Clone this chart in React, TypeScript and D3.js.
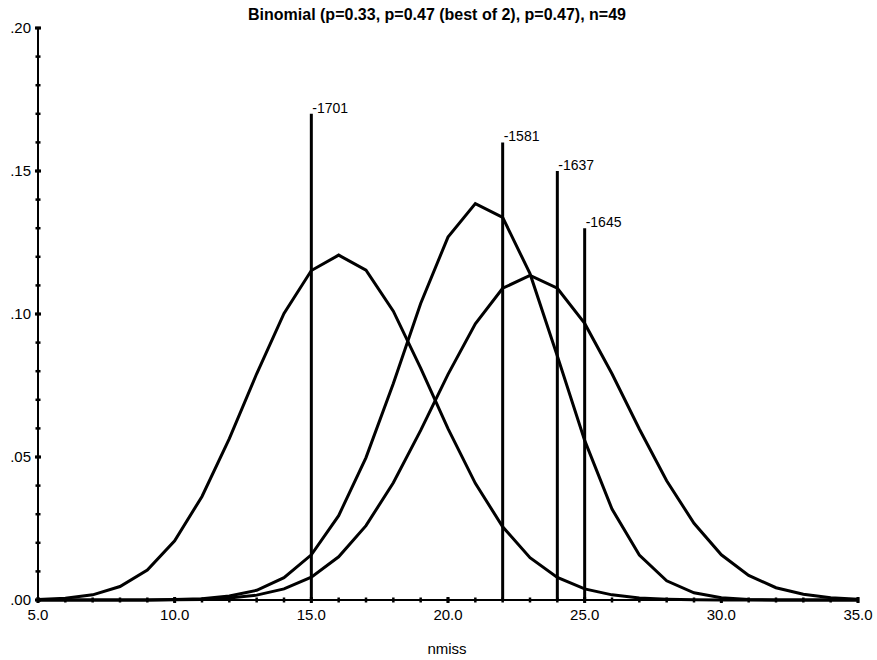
import React from "react";
import * as d3 from "d3";

const ks = [5, 6, 7, 8, 9, 10, 11, 12, 13, 14, 15, 16, 17, 18, 19, 20, 21, 22, 23, 24, 25, 26, 27, 28, 29, 30, 31, 32, 33, 34, 35];

const pLow = [0.0002, 0.0006, 0.0018, 0.0047, 0.0105, 0.0207, 0.0362, 0.0564, 0.0791, 0.1002, 0.1152, 0.1206, 0.1153, 0.1010, 0.0811, 0.0599, 0.0408, 0.0256, 0.0148, 0.0079, 0.0039, 0.0018, 0.0007, 0.0003, 0.0001, 0, 0, 0, 0, 0, 0];

const pBest2 = [0, 0, 0, 0, 0, 0.0002, 0.0004, 0.0014, 0.0034, 0.0078, 0.0158, 0.0295, 0.0498, 0.0757, 0.1037, 0.1269, 0.1386, 0.1338, 0.1141, 0.0853, 0.0558, 0.0318, 0.0157, 0.0067, 0.0025, 0.0008, 0.0002, 0, 0, 0, 0];

const pHigh = [0, 0, 0, 0, 0, 0.0001, 0.0002, 0.0007, 0.0017, 0.0039, 0.0080, 0.0151, 0.0260, 0.0410, 0.0593, 0.0789, 0.0966, 0.1090, 0.1135, 0.1090, 0.0967, 0.0791, 0.0598, 0.0417, 0.0268, 0.0158, 0.0086, 0.0043, 0.0020, 0.0008, 0.0003];

const markerX = [15, 22, 24, 25];
const markerH = [0.17, 0.16, 0.15, 0.13];
const markerLabels = ["-1701", "-1581", "-1637", "-1645"];

const yMinorTicks = [0, 0.01, 0.02, 0.03, 0.04, 0.05, 0.06, 0.07, 0.08, 0.09, 0.1, 0.11, 0.12, 0.13, 0.14, 0.15, 0.16, 0.17, 0.18, 0.19, 0.2];
const yMajorTicks = [0, 0.05, 0.1, 0.15, 0.2];
const yTickLabels = [".00", ".05", ".10", ".15", ".20"];
const xMajorTicks = [5, 10, 15, 20, 25, 30, 35];
const xTickLabels = ["5.0", "10.0", "15.0", "20.0", "25.0", "30.0", "35.0"];

const title = "Binomial (p=0.33, p=0.47 (best of 2), p=0.47), n=49";
const xTitle = "nmiss";

const W = 877;
const H = 660;

export default function App() {
  const x = d3.scaleLinear().domain([5, 35]).range([38, 858]);
  const y = d3.scaleLinear().domain([0, 0.2]).range([600, 28]);
  const line = d3
    .line<number>()
    .x((_, i) => x(ks[i]))
    .y((d) => y(d));
  const series = [pLow, pBest2, pHigh];
  const font = "'Liberation Sans', Arial, sans-serif";
  const narrow = "'Liberation Sans Narrow', 'Arial Narrow', 'Liberation Sans', sans-serif";

  return (
    <svg
      width={W}
      height={H}
      viewBox={`0 0 ${W} ${H}`}
      style={{ position: "absolute", left: 0, top: 0, background: "#fff" }}
    >
      <text
        x={437}
        y={20}
        textAnchor="middle"
        fontFamily={narrow}
        fontWeight="bold"
        fontSize={16}
        fill="#000"
      >
        {title}
      </text>

      {/* y axis */}
      <line x1={x(5)} x2={x(5)} y1={y(0)} y2={y(0.2)} stroke="#000" strokeWidth={2} />
      {yMinorTicks.map((t) => (
        <line key={"ym" + t} x1={x(5) - 2.5} x2={x(5) + 2.5} y1={y(t)} y2={y(t)} stroke="#000" strokeWidth={2.5} />
      ))}
      {yMajorTicks.map((t, i) => (
        <g key={"yM" + t}>
          <line x1={x(5) - 3} x2={x(5) + 3} y1={y(t)} y2={y(t)} stroke="#000" strokeWidth={3} />
          <text x={x(5) - 7} y={y(t) + 5} textAnchor="end" fontFamily={font} fontSize={15} fill="#000">
            {yTickLabels[i]}
          </text>
        </g>
      ))}

      {/* x axis */}
      <line x1={x(5)} x2={x(35)} y1={y(0)} y2={y(0)} stroke="#000" strokeWidth={2} />
      {ks.map((k) => (
        <line key={"xm" + k} x1={x(k)} x2={x(k)} y1={y(0) - 2.5} y2={y(0) + 2.5} stroke="#000" strokeWidth={2.5} />
      ))}
      {xMajorTicks.map((t, i) => (
        <g key={"xM" + t}>
          <line x1={x(t)} x2={x(t)} y1={y(0) - 3} y2={y(0) + 3} stroke="#000" strokeWidth={3} />
          <text x={x(t)} y={620} textAnchor="middle" fontFamily={font} fontSize={15} fill="#000">
            {xTickLabels[i]}
          </text>
        </g>
      ))}
      <text x={447} y={654} textAnchor="middle" fontFamily={font} fontSize={15} fill="#000">
        {xTitle}
      </text>

      {/* marker lines */}
      {markerX.map((m, i) => (
        <g key={"mk" + m}>
          <line x1={x(m)} x2={x(m)} y1={y(0)} y2={y(markerH[i])} stroke="#000" strokeWidth={3} />
          <text x={x(m) + 1} y={y(markerH[i]) - 1} fontFamily={narrow} fontSize={14} fill="#000">
            {markerLabels[i]}
          </text>
        </g>
      ))}

      {/* curves */}
      {series.map((s, i) => (
        <path key={"s" + i} d={line(s) || ""} fill="none" stroke="#000" strokeWidth={3} strokeLinejoin="miter" />
      ))}
    </svg>
  );
}
